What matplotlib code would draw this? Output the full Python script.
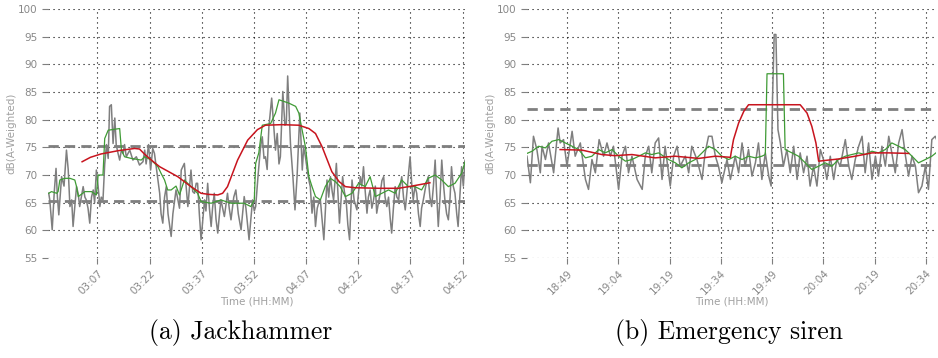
import matplotlib
matplotlib.use("Agg")
import matplotlib.pyplot as plt

# ---- (a) jackhammer: minutes after 02:53 ----
jack_t = [0.0, 0.3, 1.0, 1.6, 2.1, 2.5, 2.9, 3.7, 4.4, 5.1, 5.6, 6.1, 6.6, 7.0, 8.0, 8.5, 8.9,
          9.9, 10.4, 10.8, 11.3, 11.8, 12.3, 12.8, 13.2, 13.7, 14.2, 14.7, 15.1, 15.6, 16.1,
          16.6, 17.1, 17.5, 18.0, 18.5, 19.0, 19.4, 19.9, 20.4, 20.9, 21.4, 21.8, 22.3, 23.3,
          24.2, 25.2, 26.1, 27.1, 27.6, 28.0, 28.7, 29.3, 29.9, 30.4, 31.2, 31.9, 32.3, 32.8,
          33.3, 33.8, 34.3, 35.2, 35.7, 36.6, 37.6, 38.1, 39.0, 39.5, 40.0, 40.9, 41.4, 41.9,
          42.4, 42.8, 43.3, 43.8, 44.3, 44.8, 45.2, 45.7, 46.2, 46.7, 47.1, 47.6, 48.1, 48.6,
          49.1, 49.5, 50.5, 51.4, 51.9, 52.4, 53.2, 53.8, 54.5, 55.3, 56.2, 56.7, 57.6, 58.6,
          59.1, 59.5, 60.2, 60.9, 61.4, 61.9, 62.3, 62.8, 63.3, 64.1, 64.7, 65.2, 65.7, 66.2,
          66.6, 67.3, 67.9, 68.3, 68.7, 69.2, 69.5, 70.2, 70.8, 71.4, 72.2, 72.9, 73.3, 73.8,
          74.6, 75.2, 75.7, 76.2, 76.7, 77.2, 77.6, 78.1, 78.6, 79.1, 79.5, 80.0, 80.5, 81.0,
          81.5, 81.9, 82.7, 83.2, 83.6, 84.1, 84.5, 85.0, 85.5, 86.0, 86.5, 87.2, 87.8, 88.6,
          89.1, 89.6, 90.0, 90.5, 91.0, 91.5, 91.9, 92.4, 92.9, 93.4, 93.9, 94.3, 94.8, 95.3,
          95.8, 96.3, 96.7, 97.2, 97.7, 98.2, 98.6, 99.1, 99.6, 100.1, 100.6, 101.0, 101.5,
          102.0, 102.5, 103.0, 103.4, 103.9, 104.4, 104.8, 105.3, 105.8, 106.3, 106.8, 107.2,
          107.7, 108.4, 109.1, 109.6, 110.1, 110.6, 111.1, 111.5, 112.0, 112.5, 113.0, 113.4,
          113.9, 114.4, 114.9, 115.4, 115.8, 116.3, 116.8, 117.3, 117.7, 118.2, 118.7, 119.2,
          119.7, 120.4]
jack_db = [66.7, 65.5, 60.1, 67.0, 71.2, 66.0, 62.8, 69.7, 68.0, 74.5, 71.0, 64.3, 65.5, 60.7,
           67.9, 66.5, 64.3, 67.9, 66.0, 65.5, 64.0, 61.3, 66.0, 67.3, 65.0, 70.9, 68.0, 64.3,
           66.0, 65.5, 72.0, 75.5, 73.0, 82.4, 82.7, 75.7, 80.3, 75.5, 74.0, 72.7, 74.5, 73.9,
           75.5, 73.3, 74.5, 72.7, 73.3, 71.8, 72.4, 74.5, 72.0, 75.5, 70.9, 74.8, 73.9, 70.0,
           66.7, 63.0, 61.3, 66.0, 67.9, 63.0, 58.9, 63.0, 67.3, 64.0, 70.9, 72.1, 68.0, 64.3,
           70.9, 67.0, 66.7, 68.5, 68.5, 63.0, 58.3, 62.0, 65.5, 63.5, 68.5, 64.0, 60.7, 64.0,
           66.7, 62.0, 59.5, 63.0, 65.5, 62.5, 66.7, 64.0, 61.9, 66.0, 67.3, 63.0, 60.1, 66.1,
           64.0, 58.3, 65.5, 63.5, 64.3, 70.0, 75.1, 76.9, 73.0, 73.3, 71.0, 78.7, 83.9, 78.7,
           74.5, 77.5, 72.0, 73.3, 85.1, 79.0, 79.3, 87.9, 80.0, 75.7, 69.7, 63.7, 69.7, 81.2,
           70.9, 75.0, 73.3, 69.7, 67.9, 63.1, 66.0, 60.7, 64.0, 64.9, 65.5, 62.0, 58.3, 63.0,
           69.1, 66.0, 69.7, 67.0, 65.5, 72.1, 66.0, 61.3, 66.0, 69.7, 67.0, 65.5, 61.0, 58.3,
           69.1, 65.5, 63.7, 67.0, 69.7, 68.0, 71.5, 67.0, 63.1, 66.0, 67.3, 64.0, 65.5, 68.0,
           63.1, 65.0, 66.7, 69.0, 69.7, 66.0, 64.3, 66.0, 62.0, 59.5, 64.0, 67.9, 66.0, 65.5,
           68.0, 69.7, 66.0, 63.7, 67.0, 70.0, 73.3, 68.0, 65.5, 68.0, 66.7, 63.0, 60.7, 64.0,
           65.5, 68.0, 69.7, 66.0, 64.3, 68.0, 72.7, 67.0, 60.7, 66.0, 72.7, 69.0, 65.5, 63.0,
           61.9, 66.0, 71.5, 68.0, 66.7, 63.0, 60.7, 66.0, 71.5, 68.0, 72.7, 73.0]
jack_mid_t = [0.0, 0.8, 2.3, 2.7, 3.2, 4.6, 6.1, 7.5, 8.0, 8.5, 10.4, 12.3, 13.7, 14.2, 15.6,
              16.1, 17.1, 20.4, 20.9, 21.8, 23.7, 26.6, 27.6, 29.5, 31.4, 32.3, 33.3, 34.2,
              35.2, 36.6, 37.6, 39.0, 40.9, 42.8, 43.8, 46.7, 49.5, 52.4, 56.2, 58.1, 59.1,
              59.5, 60.4, 61.4, 63.8, 65.2, 66.2, 69.0, 71.0, 71.9, 73.8, 74.8, 75.7, 76.7,
              78.1, 79.5, 81.0, 82.4, 83.8, 85.3, 87.2, 89.1, 91.0, 92.4, 93.9, 95.8, 97.7,
              99.6, 101.5, 103.4, 105.3, 107.2, 109.1, 111.1, 113.0, 114.9, 116.8, 118.7, 119.7]
jack_mid_db = [66.7, 67.0, 66.7, 67.0, 69.1, 69.4, 69.4, 69.1, 67.9, 66.1, 67.0, 67.0, 66.4,
               70.0, 70.0, 76.6, 78.1, 78.4, 74.5, 73.3, 73.0, 72.7, 73.3, 72.7, 71.5, 70.3,
               69.1, 67.3, 67.3, 68.0, 66.4, 69.1, 67.9, 66.7, 65.2, 64.9, 65.5, 64.9, 64.9,
               64.3, 65.5, 72.1, 74.0, 79.0, 79.3, 81.2, 83.6, 83.0, 82.4, 81.2, 75.1, 69.7,
               67.9, 66.1, 65.5, 67.9, 69.4, 68.8, 67.9, 66.1, 66.7, 68.5, 67.9, 69.7, 66.1,
               66.7, 67.3, 66.7, 69.1, 67.9, 67.9, 67.3, 69.4, 70.0, 69.1, 67.9, 68.5, 70.3, 72.4]
jack_slow_t = [9.6, 12.0, 15.0, 20.0, 24.7, 26.1, 27.5, 29.5, 31.9, 34.5, 37.1, 40.9, 43.8,
               46.0, 48.6, 50.0, 51.4, 54.3, 57.2, 60.0, 62.3, 67.0, 71.9, 74.8, 76.7, 78.6,
               81.4, 83.5, 85.3, 88.1, 95.0, 100.6, 104.4, 109.6]
jack_slow_db = [72.4, 73.2, 73.8, 74.4, 74.8, 74.7, 73.8, 72.7, 71.5, 70.6, 69.7, 67.9, 66.7,
                66.5, 66.4, 66.7, 67.9, 72.7, 76.3, 78.2, 79.0, 79.1, 79.0, 78.4, 77.5, 75.1,
                70.6, 68.8, 67.9, 67.7, 67.6, 67.6, 68.0, 68.6]
jack_levels = [75.3, 65.3]
jack_ticks = [14, 29, 44, 59, 74, 89, 104, 119]
jack_ticklabels = ["03:07", "03:22", "03:37", "03:52", "04:07", "04:22", "04:37", "04:52"]

# ---- (b) emergency siren: minutes after 18:37 ----
siren_t = [0.3, 1.3, 2.2, 3.2, 4.2, 4.7, 5.7, 6.6, 8.1, 9.4, 10.0, 11.0, 12.0, 13.5, 14.4,
           15.9, 17.4, 18.3, 19.3, 20.3, 21.4, 22.7, 23.7, 24.7, 25.6, 27.1, 28.1, 29.1, 30.0,
           31.0, 32.5, 34.0, 34.9, 35.9, 36.8, 37.8, 38.8, 39.8, 40.7, 42.2, 43.2, 44.2, 45.1,
           46.6, 47.6, 48.5, 50.0, 51.5, 52.4, 53.4, 54.4, 55.4, 56.3, 57.3, 58.8, 59.8, 61.2,
           62.2, 63.2, 64.1, 65.1, 66.1, 67.1, 68.0, 69.0, 70.0, 71.0, 71.7, 72.1, 72.6, 73.1,
           73.7, 74.4, 75.3, 76.3, 77.3, 78.3, 79.3, 80.2, 81.2, 82.2, 83.1, 84.1, 85.1, 86.1,
           87.0, 88.0, 89.0, 90.0, 90.9, 91.9, 93.4, 94.4, 95.3, 96.3, 97.3, 98.3, 99.2, 100.2,
           101.2, 102.2, 103.1, 104.1, 105.1, 106.1, 107.0, 108.0, 109.0, 110.0, 111.0, 111.9,
           112.9, 113.9, 114.8, 115.8, 116.8, 117.7, 118.7, 119.7, 120.5]
siren_db = [73.4, 68.6, 77.0, 74.6, 70.4, 75.2, 72.8, 75.8, 70.4, 78.5, 75.8, 76.4, 71.6, 77.9,
            73.4, 75.8, 69.2, 67.4, 72.8, 70.4, 76.4, 73.4, 75.8, 73.4, 75.2, 67.4, 73.4, 75.2,
            70.4, 73.4, 69.2, 67.4, 73.4, 75.2, 70.4, 75.8, 76.7, 69.2, 75.2, 68.0, 73.4, 75.2,
            71.6, 73.4, 70.4, 75.2, 72.8, 69.2, 74.0, 77.0, 77.0, 73.4, 71.6, 68.6, 72.8, 69.2,
            73.4, 70.4, 75.8, 71.6, 74.6, 69.8, 72.2, 75.8, 69.2, 74.0, 69.8, 68.0, 83.6, 95.4,
            95.4, 78.2, 75.8, 71.6, 74.6, 70.4, 75.2, 69.2, 74.0, 70.4, 73.4, 68.0, 71.6, 68.0,
            74.6, 72.8, 69.2, 73.4, 69.2, 72.8, 71.6, 76.4, 71.6, 69.2, 72.8, 75.2, 77.0, 70.4,
            75.8, 69.2, 73.4, 69.8, 75.2, 71.6, 77.0, 74.0, 70.4, 75.8, 78.2, 73.4, 69.8, 73.4,
            71.6, 66.8, 68.0, 71.6, 67.4, 76.4, 77.0, 75.8]
siren_mid_t = [0.3, 1.8, 3.7, 5.7, 7.6, 9.6, 11.5, 13.5, 15.4, 17.4, 19.3, 21.3, 23.2, 25.2,
               27.1, 29.1, 31.0, 33.0, 34.9, 36.8, 38.8, 41.7, 43.7, 45.6, 47.6, 49.5, 51.5,
               53.4, 55.4, 57.3, 59.3, 61.2, 63.2, 65.1, 67.1, 69.0, 70.0, 70.5, 75.3, 75.8,
               77.8, 79.7, 81.7, 83.6, 85.6, 87.5, 89.5, 91.4, 93.4, 95.3, 97.3, 99.2, 101.2,
               103.1, 105.1, 107.0, 109.0, 110.9, 112.9, 114.8, 116.8, 118.7, 120.5]
siren_mid_db = [73.9, 74.3, 75.2, 74.9, 76.1, 76.4, 75.8, 75.2, 74.6, 73.1, 73.4, 74.6, 74.0,
                74.6, 73.4, 72.5, 72.8, 73.4, 74.0, 73.7, 74.0, 72.8, 72.2, 71.3, 72.2, 72.8,
                74.0, 75.2, 74.6, 73.4, 72.8, 73.4, 72.8, 73.4, 73.1, 73.4, 73.7, 88.3, 88.3,
                74.6, 74.0, 73.4, 72.2, 71.0, 71.6, 72.2, 71.6, 72.8, 73.4, 73.7, 74.0, 73.7,
                74.3, 74.0, 74.6, 75.8, 75.2, 74.6, 73.4, 72.2, 72.8, 73.4, 74.3]
siren_slow_t = [10.0, 16.4, 22.2, 26.0, 31.0, 37.8, 43.6, 50.5, 55.4, 59.8, 60.0, 60.7, 62.2,
                63.7, 65.1, 80.2, 82.2, 83.6, 84.8, 85.6, 91.4, 96.3, 101.2, 106.1, 111.9]
siren_slow_db = [74.6, 74.5, 73.7, 73.5, 73.7, 73.1, 73.4, 73.0, 73.4, 73.2, 74.0, 76.4, 79.4,
                 81.5, 82.7, 82.7, 81.2, 78.8, 75.8, 72.5, 72.9, 73.4, 74.0, 74.0, 73.9]
siren_levels = [81.9, 71.8]
siren_ticks = [12, 27, 42, 57, 72, 87, 102, 117]
siren_ticklabels = ["18:49", "19:04", "19:19", "19:34", "19:49", "20:04", "20:19", "20:34"]

GREY = "#7f7f7f"
GREEN = "#3f9b35"
RED = "#c8141e"

fig = plt.figure(figsize=(9.38, 3.58), dpi=100)
ax_a = fig.add_axes([0.0512, 0.2793, 0.4446, 0.6955])
ax_b = fig.add_axes([0.5618, 0.2793, 0.4360, 0.6955])

panels = [
    (ax_a, jack_t, jack_db, jack_mid_t, jack_mid_db, jack_slow_t, jack_slow_db,
     jack_levels, jack_ticks, jack_ticklabels, (-0.2, 119.7), "(a) Jackhammer", 0.257),
    (ax_b, siren_t, siren_db, siren_mid_t, siren_mid_db, siren_slow_t, siren_slow_db,
     siren_levels, siren_ticks, siren_ticklabels, (0.3, 119.9), "(b) Emergency siren", 0.777),
]

for (ax, t, db, mt, mdb, st, sdb, levels, ticks, labels, xlim, caption, cx) in panels:
    ax.plot(t, db, color=GREY, lw=1.1, zorder=2)
    for lev in levels:
        ax.axhline(lev, color=GREY, lw=2.0, dashes=(3.7, 2.2), zorder=3)
    ax.plot(mt, mdb, color=GREEN, lw=0.9, zorder=4)
    ax.plot(st, sdb, color=RED, lw=1.1, zorder=5)

    ax.set_xlim(*xlim)
    ax.set_ylim(55, 100)
    ax.set_yticks(range(55, 101, 5))
    ax.set_xticks(ticks)
    ax.set_xticklabels(labels, rotation=45, ha="right", rotation_mode="anchor")
    ax.grid(True, ls=(0, (1, 3.5)), color="black", lw=0.8, zorder=0)
    for sp in ax.spines.values():
        sp.set_visible(False)
    ax.tick_params(axis="both", colors=GREY, labelcolor="#888888", labelsize=7.5,
                   length=4, width=0.8)
    ax.set_ylabel("dB(A-Weighted)", color="#a0a0a0", fontsize=7.5, labelpad=1)
    ax.set_xlabel("Time (HH:MM)", color="#a0a0a0", fontsize=7.5, labelpad=0)
    fig.text(cx, 0.07, caption, ha="center", va="center", fontsize=18.5,
             family="cmr10")

fig.savefig("out.png", dpi=100)
